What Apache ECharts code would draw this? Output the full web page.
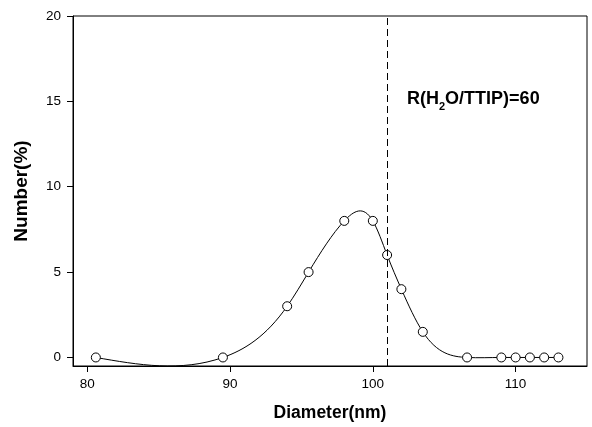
<!DOCTYPE html>
<html>
<head>
<meta charset="utf-8">
<script src="https://cdn.jsdelivr.net/npm/echarts@6/dist/echarts.min.js"></script>
<style>html,body{margin:0;padding:0;background:#fff}#c{width:592px;height:427px}</style>
</head>
<body>
<div id="c"></div>
<script>
const diameters = [80.6, 89.5, 94.0, 95.5, 98.0, 100.0, 101.0, 102.0, 103.5, 106.6, 109.0, 110.0, 111.0, 112.0, 113.0];
const numbers   = [0, 0, 3, 5, 8, 8, 6, 4, 1.5, 0, 0, 0, 0, 0, 0];
const xTicks = [80, 90, 100, 110];
const yTicks = [0, 5, 10, 15, 20];
const cutoff = 101;
const xTitle = 'Diameter(nm)';
const yTitle = 'Number(%)';

// natural cubic spline second derivatives (data space)
function splineM(xs, ys) {
  const n = xs.length, M = new Array(n).fill(0);
  if (n < 3) return M;
  const a = [], b = [], c = [], d = [];
  for (let i = 1; i < n - 1; i++) {
    const h0 = xs[i] - xs[i - 1], h1 = xs[i + 1] - xs[i];
    a.push(h0); b.push(2 * (h0 + h1)); c.push(h1);
    d.push(6 * ((ys[i + 1] - ys[i]) / h1 - (ys[i] - ys[i - 1]) / h0));
  }
  const m = b.length;
  for (let i = 1; i < m; i++) {
    const w = a[i] / b[i - 1];
    b[i] -= w * c[i - 1]; d[i] -= w * d[i - 1];
  }
  const s = new Array(m);
  s[m - 1] = d[m - 1] / b[m - 1];
  for (let i = m - 2; i >= 0; i--) s[i] = (d[i] - c[i] * s[i + 1]) / b[i];
  for (let i = 0; i < m; i++) M[i + 1] = s[i];
  return M;
}

const font = '"Liberation Sans", Arial, sans-serif';
const chart = echarts.init(document.getElementById('c'));
chart.setOption({
  animation: false,
  backgroundColor: '#fff',
  grid: { left: 73, top: 16, right: 5, bottom: 59, show: true, borderColor: '#000', borderWidth: 1, backgroundColor: 'transparent' },
  xAxis: {
    type: 'value', min: 79, max: 115,
    name: xTitle, nameLocation: 'middle', nameGap: 38,
    nameTextStyle: { fontFamily: font, fontWeight: 'bold', fontSize: 17.5, color: '#000' },
    axisLine: { show: true, onZero: false, lineStyle: { color: '#000', width: 1 } },
    axisTick: { show: true, length: 6, lineStyle: { color: '#000' }, customValues: xTicks },
    axisLabel: { margin: 11, fontFamily: font, fontSize: 13.5, color: '#000', customValues: xTicks },
    splitLine: { show: false }
  },
  yAxis: {
    type: 'value', min: -0.5, max: 20,
    name: yTitle, nameLocation: 'middle', nameGap: 42,
    nameTextStyle: { fontFamily: font, fontWeight: 'bold', fontSize: 19, color: '#000' },
    axisLine: { show: true, onZero: false, lineStyle: { color: '#000', width: 1 } },
    axisTick: { show: true, length: 6, lineStyle: { color: '#000' }, customValues: yTicks },
    axisLabel: { margin: 12, fontFamily: font, fontSize: 13.5, color: '#000', customValues: yTicks },
    splitLine: { show: false }
  },
  series: [{
    type: 'custom',
    data: diameters.map((d, i) => [d, numbers[i]]),
    encode: { x: 0, y: 1 },
    silent: true,
    z: 1,
    renderItem: function (params, api) {
      if (params.dataIndex !== 0) return null;
      const xs = diameters, ys = numbers, M = splineM(xs, ys);
      let p0 = api.coord([xs[0], ys[0]]);
      let path = 'M' + p0[0] + ' ' + p0[1];
      for (let i = 0; i < xs.length - 1; i++) {
        const h = xs[i + 1] - xs[i];
        const sl = (ys[i + 1] - ys[i]) / h;
        const d0 = sl - h * (2 * M[i] + M[i + 1]) / 6;
        const d1 = sl + h * (M[i] + 2 * M[i + 1]) / 6;
        const c1 = api.coord([xs[i] + h / 3, ys[i] + h / 3 * d0]);
        const c2 = api.coord([xs[i + 1] - h / 3, ys[i + 1] - h / 3 * d1]);
        const p1 = api.coord([xs[i + 1], ys[i + 1]]);
        path += ' C' + c1[0] + ' ' + c1[1] + ' ' + c2[0] + ' ' + c2[1] + ' ' + p1[0] + ' ' + p1[1];
      }
      return { type: 'path', shape: { pathData: path }, style: { fill: 'none', stroke: '#000', lineWidth: 1 } };
    }
  }, {
    type: 'scatter',
    data: diameters.map((d, i) => [d, numbers[i]]),
    symbol: 'circle', symbolSize: 9, z: 3,
    itemStyle: { color: '#fff', borderColor: '#000', borderWidth: 1, opacity: 1 },
    markLine: {
      silent: true, symbol: 'none', label: { show: false },
      lineStyle: { color: '#000', type: [7, 4], width: 1 },
      data: [{ xAxis: cutoff }]
    }
  }],
  graphic: [{
    type: 'text', left: 407, top: 90,
    style: {
      text: '{n|R(H}{s|2}{n|O/TTIP)=60}',
      rich: {
        n: { fontFamily: font, fontWeight: 'bold', fontSize: 18, color: '#000', lineHeight: 22, verticalAlign: 'bottom' },
        s: { fontFamily: font, fontWeight: 'bold', fontSize: 11, color: '#000', lineHeight: 22, verticalAlign: 'bottom', padding: [0, 0, -4, 0] }
      }
    }
  }]
});
</script>
</body>
</html>
